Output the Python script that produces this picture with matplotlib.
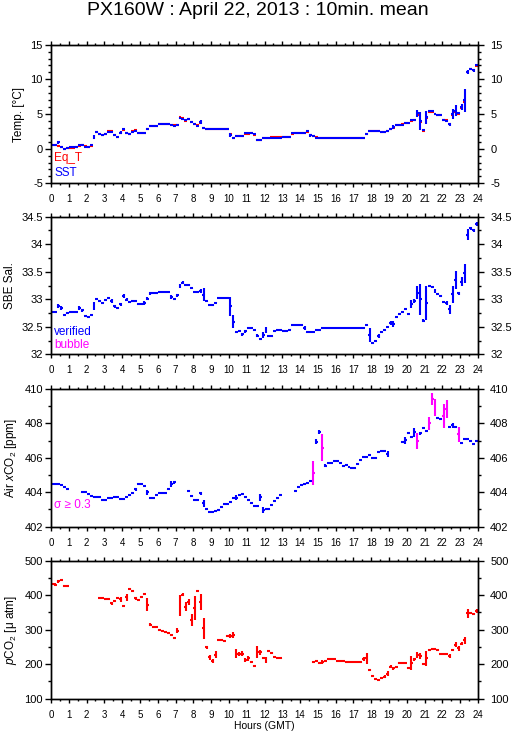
import numpy as np
import matplotlib
matplotlib.use("Agg")
from matplotlib import pyplot as plt
from matplotlib.ticker import MultipleLocator, FuncFormatter

plt.rcParams['font.family'] = ['Liberation Sans', 'DejaVu Sans']
plt.rcParams['mathtext.fontset'] = 'custom'
plt.rcParams['mathtext.rm'] = 'Liberation Sans'
plt.rcParams['mathtext.it'] = 'Liberation Sans:italic'
plt.rcParams['axes.unicode_minus'] = False

nan = float('nan')

# 10-minute slots, 144 per day
slot_start = np.arange(144) / 6.0

# ---- Temperature ----
sst = [0.5, 0.5, 0.9, 0.3, 0.0, 0.1, 0.2, 0.2, 0.2, 0.5, 0.5, 0.3,
       0.3, 0.5, 1.7, 2.4, 2.1, 1.9, 2.1, 2.45, 2.45, 2.0, 1.7, 2.3,
       2.8, 2.3, 2.15, 2.4, 2.6, 2.25, 2.25, 2.25, 2.9, 3.25, 3.25, 3.25,
       3.55, 3.55, 3.55, 3.55, 3.4, 3.3, 3.35, 4.4, 4.3, 4.1, 4.3, 3.9,
       3.55, 3.3, 3.9, 3.0, 2.85, 2.85, 2.85, 2.85, 2.85, 2.85, 2.85, 2.85,
       2.0, 1.6, 1.8, 1.8, 1.8, 2.2, 2.2, 2.2, 2.05, 1.2, 1.3, 1.55,
       1.55, 1.55, 1.55, 1.55, 1.55, 1.55, 1.7, 1.7, 1.7, 2.2, 2.3, 2.3,
       2.3, 2.3, 2.5, 1.9, 1.8, 1.6, 1.55, 1.55, 1.55, 1.55, 1.55, 1.55,
       1.55, 1.55, 1.55, 1.55, 1.55, 1.55, 1.55, 1.55, 1.55, 1.55, 2.05, 2.5,
       2.5, 2.5, 2.5, 2.4, 2.4, 2.6, 2.8, 3.1, 3.45, 3.45, 3.45, 3.75,
       3.65, 4.1, 4.2, 5.1, 4.0, 2.7, 4.5, 5.4, 5.4, 5.0, 4.85, 4.85,
       4.2, 4.0, 3.5, 5.0, 5.5, 5.1, 6.0, 7.0, 11.0, 11.5, 11.3, 12.0]
sst_sd = [.05, .05, .2, .05, .05, .05, .05, .05, .05, .05, .05, .05,
          .05, .05, .3, .15, .05, .05, .05, .05, .05, .05, .05, .2,
          .05, .05, .05, .05, .05, .05, .05, .05, .15, .05, .05, .05,
          .05, .05, .05, .05, .05, .05, .05, .15, .05, .05, .05, .05,
          .05, .05, .3, .05, .05, .05, .05, .05, .05, .05, .05, .05,
          .3, .05, .05, .05, .05, .05, .05, .05, .05, .15, .05, .05,
          .05, .05, .05, .05, .05, .05, .05, .05, .05, .05, .05, .05,
          .05, .05, .05, .2, .05, .05, .05, .05, .05, .05, .05, .05,
          .05, .05, .05, .05, .05, .05, .05, .05, .05, .05, .15, .05,
          .05, .05, .05, .05, .05, .05, .05, .3, .1, .1, .05, .05,
          .05, .05, .05, .5, 1.3, .1, 1.0, .05, .05, .05, .05, .05,
          .05, .2, .25, .75, .75, .05, .45, 1.65, .3, .05, .2, .05]
eq_t = [0.55, 0.55, 0.4, 0.2, -0.1, 0.05, 0.15, 0.15, 0.2, 0.45, 0.55, 0.35,
        0.3, 0.45, 1.6, 2.35, 2.1, 1.95, 2.1, 2.5, 2.5, 1.95, 1.65, 2.25,
        2.7, 2.2, 2.1, 2.5, 2.65, 2.2, 2.2, 2.25, 2.85, 3.2, 3.25, 3.25,
        3.55, 3.6, 3.55, 3.5, 3.4, 3.35, 3.35, 4.5, 4.45, 4.05, 4.25, 3.85,
        3.5, 3.45, 3.7, 2.95, 2.9, 2.9, 2.9, 2.9, 2.9, 2.9, 2.9, 2.9,
        2.1, 1.6, 1.8, 1.8, 1.85, 2.15, 2.15, 2.25, 2.0, 1.2, 1.3, 1.6,
        1.6, 1.6, 1.65, 1.65, 1.65, 1.65, 1.75, 1.75, 1.75, 2.15, 2.3, 2.3,
        2.25, 2.3, 2.45, 1.95, 1.85, 1.65, 1.6, 1.55, 1.5, 1.5, 1.55, 1.55,
        1.55, 1.55, 1.5, 1.55, 1.55, 1.5, 1.5, 1.55, 1.5, 1.5, 2.1, 2.55,
        2.55, 2.55, 2.55, 2.4, 2.35, 2.6, 2.85, 3.0, 3.4, 3.45, 3.5, 3.7,
        3.7, 4.05, 4.15, 4.9, 3.9, 2.6, 4.4, 5.3, 5.35, 4.95, 4.9, 4.8,
        4.15, 4.1, 3.6, 4.9, 5.3, 5.0, 5.9, 6.8, 11.0, 11.5, 11.4, 11.9]

# ---- Salinity ----
sal = [32.76, 32.76, 32.88, 32.84, 32.72, 32.75, 32.76, 32.76, 32.76, 32.84, 32.80, 32.70,
       32.67, 32.71, 32.88, 33.00, 32.97, 32.94, 32.99, 33.02, 32.97, 32.87, 32.84, 32.91,
       33.06, 32.99, 32.95, 32.97, 32.97, 32.91, 32.91, 32.93, 33.01, 33.11, 33.11, 33.11,
       33.13, 33.13, 33.13, 33.13, 33.04, 33.00, 33.07, 33.24, 33.30, 33.26, 33.26, 33.20,
       33.13, 33.13, 33.15, 33.08, 32.96, 32.89, 32.89, 32.94, 33.02, 33.02, 33.02, 33.02,
       32.87, 32.59, 32.40, 32.42, 32.36, 32.42, 32.48, 32.48, 32.44, 32.34, 32.28, 32.35,
       32.44, 32.33, 32.33, 32.42, 32.45, 32.45, 32.42, 32.42, 32.45, 32.53, 32.53, 32.53,
       32.53, 32.48, 32.40, 32.40, 32.40, 32.44, 32.44, 32.47, 32.48, 32.48, 32.48, 32.48,
       32.48, 32.48, 32.48, 32.48, 32.48, 32.48, 32.48, 32.48, 32.48, 32.48, 32.53, 32.35,
       32.20, 32.24, 32.33, 32.40, 32.44, 32.50, 32.57, 32.55, 32.67, 32.73, 32.76, 32.82,
       32.74, 32.91, 32.97, 33.12, 33.00, 32.61, 32.94, 33.24, 33.22, 33.15, 33.09, 33.06,
       32.95, 32.93, 32.82, 33.09, 33.35, 33.11, 33.32, 33.47, 34.17, 34.29, 34.25, 34.37]
sal_sd = [.01, .01, .04, .03, .01, .01, .01, .01, .01, .03, .03, .01,
          .01, .01, .07, .01, .01, .01, .01, .01, .03, .03, .01, .03,
          .03, .03, .01, .01, .01, .01, .01, .03, .03, .03, .01, .01,
          .01, .01, .01, .01, .03, .01, .03, .03, .03, .01, .01, .01,
          .01, .01, .03, .12, .01, .01, .01, .01, .01, .01, .01, .01,
          .17, .12, .01, .01, .03, .03, .01, .01, .01, .03, .01, .05,
          .06, .01, .01, .01, .01, .01, .01, .01, .01, .01, .01, .01,
          .01, .03, .01, .01, .01, .01, .01, .01, .01, .01, .01, .01,
          .01, .01, .01, .01, .01, .01, .01, .01, .01, .01, .01, .13,
          .01, .01, .03, .01, .01, .01, .03, .05, .01, .01, .01, .01,
          .01, .07, .03, .12, .28, .03, .31, .01, .01, .03, .01, .01,
          .01, .03, .08, .15, .17, .03, .08, .17, .10, .03, .03, .03]

# ---- Air xCO2 ----
xco2 = [404.46, 404.46, 404.46, 404.44, 404.30, 404.20, nan, nan, nan, nan, 404.00, 404.00,
        403.90, 403.80, 403.70, 403.70, 403.70, 403.55, 403.55, 403.65, 403.68, 403.75, 403.72, 403.60,
        403.60, 403.72, 403.82, 403.93, 404.17, 404.50, 404.50, 404.36, 404.00, 403.65, 403.65, 403.84,
        403.93, 403.93, 403.93, 404.17, 404.48, 404.57, nan, nan, nan, nan, 404.10, 403.80,
        403.58, 403.58, 403.93, 403.35, 403.00, 402.87, 402.87, 402.90, 402.96, 403.12, 403.30, 403.30,
        403.45, 403.64, 403.68, 403.84, 403.88, 403.75, 403.55, 403.35, 403.20, 403.22, 403.70, 402.97,
        403.00, 403.00, 403.26, 403.50, 403.64, 403.84, nan, nan, nan, nan, 404.10, 404.28,
        404.40, 404.46, 404.55, 404.65, 405.14, 406.94, 407.50, 406.60, 405.54, 405.68, 405.68, 405.81,
        405.81, 405.72, 405.52, 405.58, 405.45, 405.40, 405.40, 405.62, 405.87, 406.07, 406.07, 406.16,
        406.00, 405.97, 406.36, 406.40, 406.40, 406.22, nan, nan, nan, nan, 406.92, 407.03,
        407.46, 407.20, 407.48, 406.98, 407.42, 407.75, 407.56, 408.00, 409.40, 408.93, 408.30, 408.24,
        408.43, 408.82, 407.77, 407.90, 407.77, 407.36, 406.84, 407.10, 407.10, 406.98, 406.80, 406.98]
xco2_sd = [.02, .02, .02, .02, .02, .02, 0, 0, 0, 0, .02, .02,
           .02, .02, .02, .02, .02, .02, .02, .02, .02, .02, .02, .02,
           .02, .02, .02, .02, .10, .02, .02, .02, .15, .02, .02, .02,
           .02, .02, .02, .02, .15, .10, 0, 0, 0, 0, .02, .06,
           .02, .02, .06, .20, .02, .02, .02, .02, .02, .02, .02, .02,
           .02, .02, .15, .02, .02, .02, .02, .02, .02, .02, .20, .15,
           .02, .02, .02, .02, .02, .02, 0, 0, 0, 0, .02, .02,
           .02, .02, .02, .02, .70, .15, .10, .80, .08, .02, .02, .02,
           .02, .02, .06, .06, .02, .02, .02, .06, .02, .06, .02, .02,
           .02, .06, .02, .02, .02, .15, 0, 0, 0, 0, .06, .20,
           .06, .06, .25, .45, .10, .02, .06, .38, .35, .50, .02, .06,
           .70, .52, .06, .15, .06, .42, .02, .02, .02, .06, .02, .08]

# ---- pCO2 ----
pco2 = [432, 431, 440, 443, 426, 426, nan, nan, nan, nan, nan, nan,
        nan, nan, nan, nan, 391, 391, 388, 388, 376, 382, 391, 388,
        370, 394, 417, 413, 391, 386, 396, 403, 373, 315, 307, 307,
        299, 297, 292, 289, 285, 276, 297, 371, 402, 367, 381, 328,
        362, 413, 381, 304, 249, 220, 209, 228, 270, 270, 268, 282,
        282, 285, 231, 229, 231, 212, 217, 207, 195, 236, 234, 217,
        212, 237, 233, 220, 217, 217, nan, nan, nan, nan, nan, nan,
        nan, nan, nan, nan, 207, 210, 204, 207, 210, 214, 214, 214,
        210, 210, 210, 205, 205, 205, 205, 205, 205, 215, 217, 183,
        166, 156, 154, 159, 164, 173, 193, 188, 193, 204, 204, 204,
        190, 204, 214, 227, 224, 200, 217, 241, 244, 244, 241, 231,
        231, 231, 224, 241, 256, 246, 260, 270, 347, 349, 345, 354]
pco2_sd = [3, 3, 4, 3, 3, 3, 0, 0, 0, 0, 0, 0,
           0, 0, 0, 0, 2, 2, 2, 2, 3, 3, 3, 8,
           2, 10, 3, 3, 5, 3, 3, 2, 20, 4, 3, 3,
           3, 3, 2, 2, 3, 2, 8, 30, 3, 12, 8, 18,
           35, 2, 23, 30, 5, 7, 5, 10, 3, 3, 3, 3,
           5, 8, 12, 5, 8, 5, 8, 3, 2, 17, 8, 3,
           8, 2, 3, 3, 2, 2, 0, 0, 0, 0, 0, 0,
           0, 0, 0, 0, 3, 3, 3, 6, 2, 2, 2, 2,
           2, 2, 2, 2, 2, 2, 2, 2, 2, 5, 15, 4,
           4, 2, 2, 3, 4, 8, 5, 5, 3, 2, 2, 2,
           3, 20, 4, 8, 8, 3, 22, 2, 2, 2, 2, 2,
           2, 2, 7, 4, 7, 7, 5, 10, 12, 3, 3, 5]

BLUE = '#0000ff'
RED = '#ff0000'
MAGENTA = '#ff00ff'
LW = 1.5


def draw_marks(ax, val, sd, colors):
    val = np.asarray(val, dtype=float)
    sd = np.asarray(sd, dtype=float)
    ok = ~np.isnan(val)
    t0 = slot_start[ok]
    c = colors if isinstance(colors, str) else list(np.asarray(colors, dtype=object)[ok])
    ax.hlines(val[ok], t0, t0 + 1 / 6.0, colors=c, lw=LW)
    ax.vlines(t0 + 1 / 12.0, val[ok] - sd[ok], val[ok] + sd[ok], colors=c, lw=LW)


def set_yticks(ax, ylim, major, minor):
    ax.set_ylim(*ylim)
    ax.yaxis.set_major_locator(MultipleLocator(major))
    ax.yaxis.set_minor_locator(MultipleLocator(minor))
    ax.yaxis.set_major_formatter(FuncFormatter(lambda v, p: '%g' % v))
    ax.tick_params(axis='y', which='major', length=4.3, width=1)
    ax.tick_params(axis='y', which='minor', length=2, width=1)


def style_axis(ax, ylim, major, minor):
    ax.set_xlim(0, 24)
    ax.xaxis.set_major_locator(MultipleLocator(1))
    ax.xaxis.set_minor_locator(MultipleLocator(0.5))
    ax.tick_params(axis='x', which='both', direction='out', top=True, bottom=True,
                   labelsize=7, pad=5, width=1)
    ax.tick_params(axis='x', which='major', length=3)
    ax.tick_params(axis='x', which='minor', length=1.7)
    set_yticks(ax, ylim, major, minor)
    ax.tick_params(axis='y', which='both', direction='out', left=True, right=False,
                   labelsize=8, pad=1.5)
    for sp in ax.spines.values():
        sp.set_linewidth(1)
    # right-hand ticks and labels, a bit further from the frame
    axr = ax.twinx()
    set_yticks(axr, ylim, major, minor)
    axr.tick_params(axis='y', which='both', direction='out', labelsize=8, pad=4.5)
    for sp in axr.spines.values():
        sp.set_linewidth(1)
    return axr


fig = plt.figure(figsize=(5.15, 7.39), dpi=100)
W, H = 515.0, 739.0
left = 51 / W
width = (478 - 51) / W
tops = [44.7, 216.7, 389.0, 560.7]
bots = [183.3, 354.3, 526.7, 698.7]
axes = [fig.add_axes([left, 1 - b / H, width, (b - t) / H]) for t, b in zip(tops, bots)]
ax1, ax2, ax3, ax4 = axes

# panel 1
draw_marks(ax1, eq_t, [0.0] * 144, RED)
draw_marks(ax1, sst, sst_sd, BLUE)
style_axis(ax1, (-5, 15), 5, 1)
ax1.set_ylabel('Temp. [°C]', fontsize=8.5, labelpad=4)
ax1.text(0.008, 0.18, 'Eq_T', color=RED, fontsize=8.5, transform=ax1.transAxes, va='center')
ax1.text(0.008, 0.077, 'SST', color=BLUE, fontsize=8.5, transform=ax1.transAxes, va='center')

# panel 2
draw_marks(ax2, sal, sal_sd, BLUE)
style_axis(ax2, (32, 34.5), 0.5, 0.25)
ax2.set_ylabel('SBE Sal.', fontsize=8.5, labelpad=4)
ax2.text(0.008, 0.162, 'verified', color=BLUE, fontsize=8.5, transform=ax2.transAxes, va='center')
ax2.text(0.008, 0.068, 'bubble', color=MAGENTA, fontsize=8.5, transform=ax2.transAxes, va='center')

# panel 3
xco2_colors = [MAGENTA if s >= 0.3 else BLUE for s in xco2_sd]
draw_marks(ax3, xco2, xco2_sd, xco2_colors)
style_axis(ax3, (402, 410), 2, 1)
ax3.set_ylabel('Air $x$CO$_2$ [ppm]', fontsize=8.5, labelpad=4)
ax3.text(0.008, 0.158, 'σ ≥ 0.3', color=MAGENTA, fontsize=8.5, transform=ax3.transAxes, va='center')

# panel 4
draw_marks(ax4, pco2, pco2_sd, RED)
style_axis(ax4, (100, 500), 100, 50)
ax4.set_ylabel('$p$CO$_2$ [μ atm]', fontsize=8.5, labelpad=4)
ax4.set_xlabel('Hours (GMT)', fontsize=7.5, labelpad=1)

fig.text(0.5, 1 - 10.5 / H, 'PX160W : April 22, 2013 : 10min. mean',
         ha='center', va='center', fontsize=14)

fig.savefig('out.png', dpi=100)
